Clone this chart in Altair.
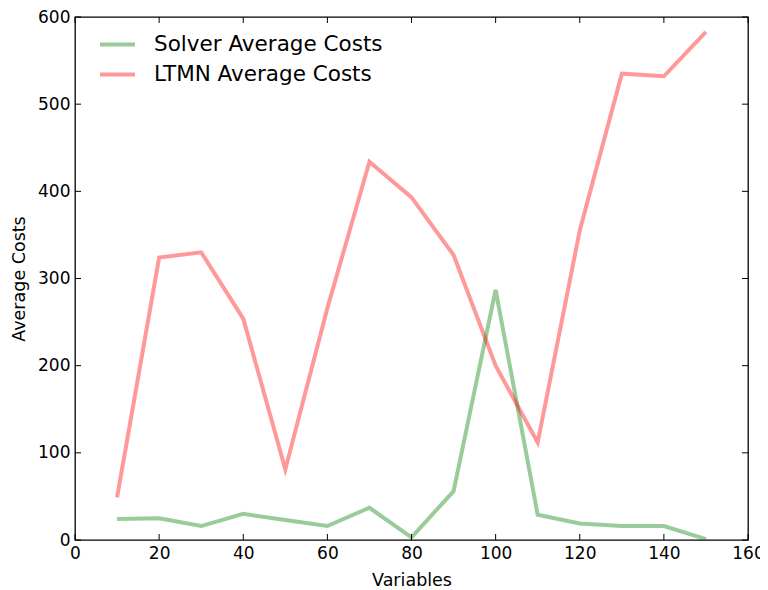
import altair as alt
import pandas as pd

variables = [10, 20, 30, 40, 50, 60, 70, 80, 90, 100, 110, 120, 130, 140, 150]
solver_costs = [24, 25, 16, 30, 23, 16, 37, 3, 56, 287, 29, 19, 16, 16, 1]
ltmn_costs = [49, 324, 330, 254, 81, 266, 434, 393, 327, 200, 112, 355, 535, 532, 583]
series_names = ["Solver Average Costs", "LTMN Average Costs"]
series_colors = ["green", "red"]
x_ticks = [0, 20, 40, 60, 80, 100, 120, 140, 160]
y_ticks = [0, 100, 200, 300, 400, 500, 600]

W, H = 673, 523
FONT = "DejaVu Sans"

rows = []
for v, s, l in zip(variables, solver_costs, ltmn_costs):
    rows.append({"Variables": v, "Cost": s, "Series": series_names[0]})
    rows.append({"Variables": v, "Cost": l, "Series": series_names[1]})
df = pd.DataFrame(rows)

xscale = alt.Scale(domain=[0, 160], nice=False, zero=False)
yscale = alt.Scale(domain=[0, 600], nice=False)

lines = alt.Chart(df).mark_line(strokeWidth=4, opacity=0.4, strokeJoin="miter").encode(
    x=alt.X("Variables:Q", scale=xscale, title="Variables",
            axis=alt.Axis(values=x_ticks, ticks=False, tickSize=0, domain=False, grid=False,
                          labelFlush=False, labelPadding=5, titlePadding=10)),
    y=alt.Y("Cost:Q", scale=yscale, title="Average Costs",
            axis=alt.Axis(values=y_ticks, ticks=False, tickSize=0, domain=False, grid=False,
                          labelFlush=False, labelPadding=5, titlePadding=9)),
    color=alt.Color("Series:N", scale=alt.Scale(domain=series_names, range=series_colors),
                    legend=alt.Legend(title=None, orient="none", legendX=23, legendY=8,
                                      symbolType="stroke", symbolSize=1225, symbolStrokeWidth=4,
                                      symbolOpacity=0.4, labelFontSize=21.5, labelFont=FONT,
                                      labelColor="black", labelOffset=17, rowPadding=-2,
                                      labelLimit=400)),
    order=alt.Order("Variables:Q"),
)

xt = pd.DataFrame({"t": x_ticks})
yt = pd.DataFrame({"t": y_ticks})

tick_style = dict(color="black", strokeWidth=1)
bottom_ticks = alt.Chart(xt).mark_rule(**tick_style).encode(
    x=alt.X("t:Q", scale=xscale), y=alt.value(H), y2=alt.value(H - 6))
top_ticks = alt.Chart(xt).mark_rule(**tick_style).encode(
    x=alt.X("t:Q", scale=xscale), y=alt.value(0), y2=alt.value(6))
left_ticks = alt.Chart(yt).mark_rule(**tick_style).encode(
    y=alt.Y("t:Q", scale=yscale), x=alt.value(0), x2=alt.value(6))
right_ticks = alt.Chart(yt).mark_rule(**tick_style).encode(
    y=alt.Y("t:Q", scale=yscale), x=alt.value(W), x2=alt.value(W - 6))

chart = alt.layer(lines, bottom_ticks, top_ticks, left_ticks, right_ticks).properties(
    width=W, height=H,
    autosize=alt.AutoSizeParams(type="none"),
    padding={"left": 67, "top": 9, "right": 12, "bottom": 48},
).configure_view(
    stroke="black", strokeWidth=1.3
).configure_axis(
    labelFont=FONT, labelFontSize=17, labelColor="black",
    titleFont=FONT, titleFontSize=17.5, titleFontWeight="normal", titleColor="black",
)

chart.save("out.html", embed_options={"renderer": "svg", "actions": False})
